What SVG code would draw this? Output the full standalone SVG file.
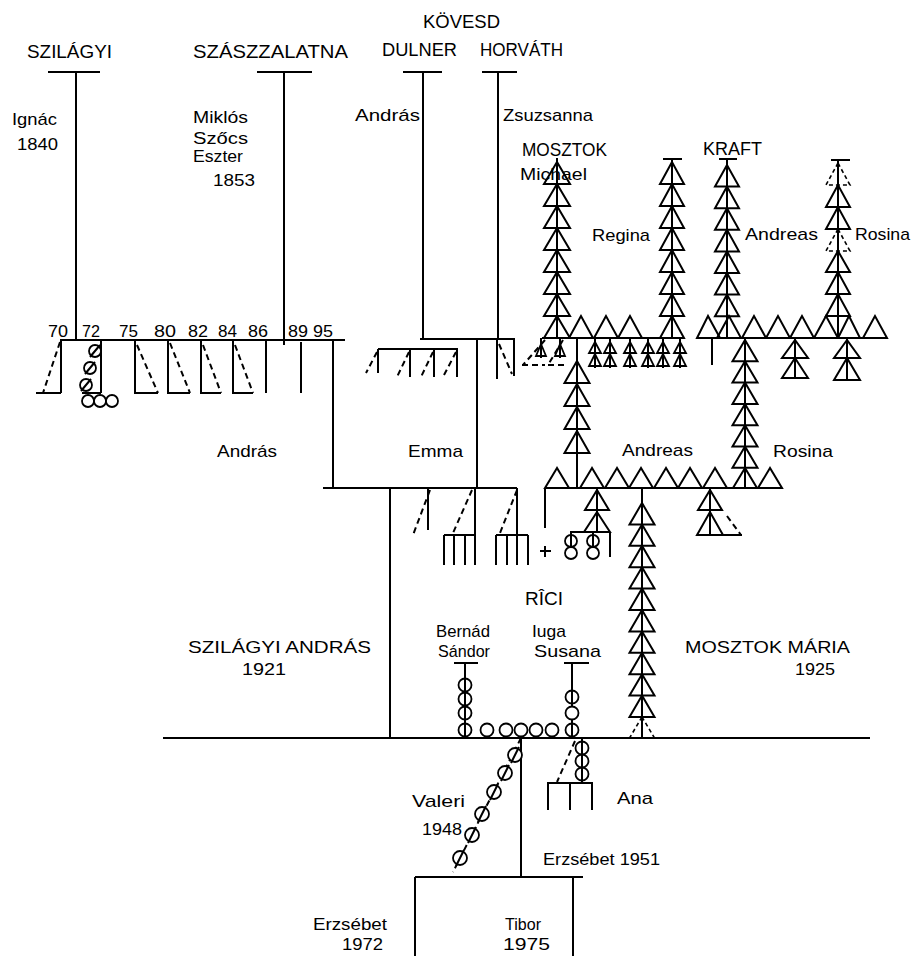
<svg xmlns="http://www.w3.org/2000/svg" width="912" height="956" viewBox="0 0 912 956">
<style>
.l{stroke:#000;stroke-width:2;fill:none}
.d{stroke:#000;stroke-width:2;fill:none;stroke-dasharray:6 4}
.t{fill:none;stroke:#000;stroke-width:2;stroke-linejoin:miter}
.td{fill:none;stroke:#000;stroke-width:1.6;stroke-dasharray:4 3}
.ts{fill:none;stroke:#000;stroke-width:1.8}
.c{fill:#fff;stroke:#000;stroke-width:1.8}
text{font-family:"Liberation Sans",Arial,sans-serif;fill:#000;font-size:17px}
.cap{font-size:18px}
.num{font-size:19px}
.sm{font-size:16px}
</style>
<rect width="912" height="956" fill="#fff"/>

<g id="connectors">
<path class="l" d="M48,72H100 M76,72V340 M257,72H312 M284,72V345 M403,72H442 M423,72V339 M482,72H517 M498,72V339 M420,339H515 M60,340H345"/>
<path class="l" d="M61,340V393 M36,393H61 M101,340V393 M82,393H101 M135,340V393H158 M168,340V393H190 M201,340V393H221 M233,340V393H253 M266,340V393 M301,342V393"/>
<path class="d" d="M60,342L43,393 M137,345L158,393 M170,343L190,393 M203,345L221,393 M235,345L253,393"/>
<path class="l" d="M333,340V488 M323,488H517 M477,339V488 M390,488V738"/>
<path class="l" d="M497,339V379 M514,339V376 M378,349H458 M378,349V373 M410,349V377 M434,349V377 M457,349V377"/>
<path class="d" d="M499,344L512,374 M377,352L366,373 M409,352L397,377 M433,352L421,377 M456,352L443,377"/>
<path class="l" d="M428,488V530 M475,488V565 M444,535H475 M444,535V565 M454,535V565 M465,535V565 M517,488V565 M496,535H528 M496,535V565 M507,535V565 M528,535V565"/>
<path class="d" d="M430,490L413,535 M472,490L453,533 M517,490L500,533"/>
<path class="l" d="M542,338H683 M697,338H887 M557,158V338 M663,159H682 M672,159V338 M719,159H737 M727,159V338 M831,160H850 M838,160V338"/>
<path class="l" d="M545,488H782 M545,488V528 M540,551H551 M545,546V557 M577,338V488 M597,488V532 M570,532H610 M610,532V557 M642,488V738 M710,488V535 M700,535H742 M745,338V488 M712,338V365 M795,338V378 M847,338V380"/>
<path class="d" d="M727,516L741,535"/>
<path class="l" d="M595,338V368 M610,338V368 M630,338V368 M648,338V368 M663,338V368 M680,338V368 M541,338V358 M560,338V358"/>
<path class="d" d="M545,340L523,365 M522,365H545 M563,340L548,365 M548,365H565"/>
<path class="l" d="M163,738H870 M454,663H478 M465,663V738 M564,663H589 M572,663V738 M521,738V877 M415,877H583 M415,877V956 M573,877V956 M582,738V783 M547,783H593 M548,783V810 M570,783V810 M592,783V810"/>
<path class="d" d="M521,738L453,872 M575,741L557,782"/>
</g>

<g id="szilagyi-ignac">
<text class="cap" x="27" y="58" textLength="85" lengthAdjust="spacingAndGlyphs">SZILÁGYI</text>
<text x="12" y="125" textLength="45" lengthAdjust="spacingAndGlyphs">Ignác</text>
<text x="17" y="150" textLength="41" lengthAdjust="spacingAndGlyphs">1840</text>
</g>
<g id="szaszzalatna-szocs-eszter">
<text class="cap" x="193" y="58" textLength="155" lengthAdjust="spacingAndGlyphs">SZÁSZZALATNA</text>
<text x="193" y="123" textLength="55" lengthAdjust="spacingAndGlyphs">Miklós</text>
<text class="sm" x="193" y="144" textLength="55" lengthAdjust="spacingAndGlyphs">Szőcs</text>
<text class="sm" x="193" y="162" textLength="50" lengthAdjust="spacingAndGlyphs">Eszter</text>
<text x="213" y="186" textLength="42" lengthAdjust="spacingAndGlyphs">1853</text>
</g>
<g id="kovesd">
<text class="cap" x="423" y="28" textLength="77" lengthAdjust="spacingAndGlyphs">KÖVESD</text>
</g>
<g id="dulner-andras">
<text class="cap" x="382" y="56" textLength="75" lengthAdjust="spacingAndGlyphs">DULNER</text>
<text x="355" y="121" textLength="65" lengthAdjust="spacingAndGlyphs">András</text>
</g>
<g id="horvath-zsuzsanna">
<text class="cap" x="480" y="56" textLength="83" lengthAdjust="spacingAndGlyphs">HORVÁTH</text>
<text x="503" y="121" textLength="90" lengthAdjust="spacingAndGlyphs">Zsuzsanna</text>
</g>

<g id="children-szilagyi">
<g class="num">
<text x="48" y="337" textLength="20" lengthAdjust="spacingAndGlyphs">70</text>
<text x="82" y="337" textLength="18" lengthAdjust="spacingAndGlyphs">72</text>
<text x="119" y="337" textLength="19" lengthAdjust="spacingAndGlyphs">75</text>
<text x="154" y="337" textLength="22" lengthAdjust="spacingAndGlyphs">80</text>
<text x="188" y="337" textLength="20" lengthAdjust="spacingAndGlyphs">82</text>
<text x="218" y="337" textLength="19" lengthAdjust="spacingAndGlyphs">84</text>
<text x="248" y="337" textLength="20" lengthAdjust="spacingAndGlyphs">86</text>
<text x="288" y="337" textLength="20" lengthAdjust="spacingAndGlyphs">89</text>
<text x="313" y="337" textLength="20" lengthAdjust="spacingAndGlyphs">95</text>
</g>
<circle class="c" cx="95" cy="351" r="6"/><circle class="c" cx="90" cy="368" r="6"/><circle class="c" cx="86" cy="385" r="6"/>
<path class="l" d="M90,357L100,345 M85,374L95,362 M81,391L91,379"/>
<circle class="c" cx="88" cy="401" r="6"/><circle class="c" cx="100" cy="401" r="6"/><circle class="c" cx="112" cy="401" r="6"/>
</g>

<g id="mosztok-michael">
<text class="cap" x="522" y="156" textLength="85" lengthAdjust="spacingAndGlyphs">MOSZTOK</text>
<text x="520" y="180" textLength="67" lengthAdjust="spacingAndGlyphs">Michael</text>
<polygon class="t" points="557,162 544,184 570,184"/>
<polygon class="t" points="557,184 544,206 570,206"/>
<polygon class="t" points="557,206 544,228 570,228"/>
<polygon class="t" points="557,228 544,250 570,250"/>
<polygon class="t" points="557,250 544,272 570,272"/>
<polygon class="t" points="557,272 544,294 570,294"/>
<polygon class="t" points="557,294 544,316 570,316"/>
<polygon class="t" points="557,316 544,338 570,338"/>
</g>
<g id="regina">
<text x="592" y="241" textLength="58" lengthAdjust="spacingAndGlyphs">Regina</text>
<polygon class="t" points="672,162 660,184 684,184"/>
<polygon class="t" points="672,184 660,206 684,206"/>
<polygon class="t" points="672,206 660,228 684,228"/>
<polygon class="t" points="672,228 660,250 684,250"/>
<polygon class="t" points="672,250 660,272 684,272"/>
<polygon class="t" points="672,272 660,294 684,294"/>
<polygon class="t" points="672,294 660,316 684,316"/>
<polygon class="t" points="672,316 660,338 684,338"/>
</g>
<g id="mosztok-children">
<polygon class="t" points="581,316 569,338 593,338"/>
<polygon class="t" points="606,316 594,338 618,338"/>
<polygon class="t" points="630,316 618,338 642,338"/>
<polygon class="ts" points="541,344 536,356 546,356"/>
<polygon class="ts" points="560,344 555,356 565,356"/>
<polygon class="ts" points="595,342 589,353 601,353"/><polygon class="ts" points="595,354 589,366 601,366"/>
<polygon class="ts" points="610,342 604,353 616,353"/><polygon class="ts" points="610,354 604,366 616,366"/>
<polygon class="ts" points="630,342 624,353 636,353"/><polygon class="ts" points="630,354 624,366 636,366"/>
<polygon class="ts" points="648,342 642,353 654,353"/><polygon class="ts" points="648,354 642,366 654,366"/>
<polygon class="ts" points="663,342 657,353 669,353"/><polygon class="ts" points="663,354 657,366 669,366"/>
<polygon class="ts" points="680,342 674,353 686,353"/><polygon class="ts" points="680,354 674,366 686,366"/>
</g>
<g id="kraft-andreas">
<text class="cap" x="703" y="155" textLength="59" lengthAdjust="spacingAndGlyphs">KRAFT</text>
<text x="745" y="240" textLength="73" lengthAdjust="spacingAndGlyphs">Andreas</text>
<polygon class="t" points="727,165 715,186.6 739,186.6"/>
<polygon class="t" points="727,186.6 715,208.2 739,208.2"/>
<polygon class="t" points="727,208.2 715,229.8 739,229.8"/>
<polygon class="t" points="727,229.8 715,251.4 739,251.4"/>
<polygon class="t" points="727,251.4 715,273 739,273"/>
<polygon class="t" points="727,273 715,294.6 739,294.6"/>
<polygon class="t" points="727,294.6 715,316.2 739,316.2"/>
</g>
<g id="rosina-upper">
<text x="855" y="240" textLength="55" lengthAdjust="spacingAndGlyphs">Rosina</text>
<polygon class="td" points="838,163 826,185 850,185"/>
<polygon class="t" points="838,185 826,207 850,207"/>
<polygon class="t" points="838,207 826,229 850,229"/>
<polygon class="td" points="838,229 826,251 850,251"/>
<polygon class="t" points="838,251 826,272 850,272"/>
<polygon class="t" points="838,272 826,294 850,294"/>
<polygon class="t" points="838,294 826,316 850,316"/>
</g>
<g id="kraft-children">
<polygon class="t" points="708,316 697,338 720,338"/>
<polygon class="t" points="729,316 717,338 741,338"/>
<polygon class="t" points="754,316 742,338 766,338"/>
<polygon class="t" points="778,316 766,338 790,338"/>
<polygon class="t" points="802,316 790,338 814,338"/>
<polygon class="t" points="826,316 814,338 838,338"/>
<polygon class="t" points="849,316 838,338 860,338"/>
<polygon class="t" points="875,316 863,338 887,338"/>
<polygon class="t" points="795,340 782,358 808,358"/><polygon class="t" points="795,358 782,378 808,378"/>
<polygon class="t" points="847,340 834,358 860,358"/><polygon class="t" points="847,358 834,380 860,380"/>
</g>
<g id="andreas-line">
<text x="622" y="456" textLength="71" lengthAdjust="spacingAndGlyphs">Andreas</text>
<polygon class="t" points="577,361 564.5,383 589.5,383"/>
<polygon class="t" points="577,384 564.5,406 589.5,406"/>
<polygon class="t" points="577,407 564.5,429 589.5,429"/>
<polygon class="t" points="577,431 564.5,453 589.5,453"/>
</g>
<g id="rosina-line">
<text x="773" y="457" textLength="60" lengthAdjust="spacingAndGlyphs">Rosina</text>
<polygon class="t" points="745,340 732.5,361.3 757.5,361.3"/>
<polygon class="t" points="745,361.3 732.5,382.6 757.5,382.6"/>
<polygon class="t" points="745,382.6 732.5,403.9 757.5,403.9"/>
<polygon class="t" points="745,403.9 732.5,425.2 757.5,425.2"/>
<polygon class="t" points="745,425.2 732.5,446.5 757.5,446.5"/>
<polygon class="t" points="745,446.5 732.5,467.8 757.5,467.8"/>
</g>
<g id="andreas-rosina-children">
<polygon class="t" points="557,468 545,488 569,488"/>
<polygon class="t" points="592,468 580,488 604,488"/>
<polygon class="t" points="617,468 605,488 629,488"/>
<polygon class="t" points="641,468 629,488 653,488"/>
<polygon class="t" points="666,468 654,488 678,488"/>
<polygon class="t" points="690,468 678,488 702,488"/>
<polygon class="t" points="715,468 703,488 727,488"/>
<polygon class="t" points="745,468 733,488 757,488"/>
<polygon class="t" points="770,468 758,488 782,488"/>
<polygon class="t" points="597,490 585,510 609,510"/><polygon class="t" points="597,512 584,532 610,532"/>
<polygon class="t" points="710,490 698,510 722,510"/><polygon class="t" points="710,512 697,535 723,535"/>
<circle class="c" cx="571" cy="541" r="6"/><circle class="c" cx="571" cy="553" r="6"/>
<circle class="c" cx="593" cy="541" r="6"/><circle class="c" cx="593" cy="553" r="6"/>
<path class="l" d="M571,532V547 M593,532V547"/>
</g>
<g id="andras">
<text x="217" y="457" textLength="60" lengthAdjust="spacingAndGlyphs">András</text>
</g>
<g id="emma">
<text x="408" y="457" textLength="55" lengthAdjust="spacingAndGlyphs">Emma</text>
</g>
<g id="rici">
<text class="cap" x="525" y="605" textLength="38" lengthAdjust="spacingAndGlyphs">RÎCI</text>
</g>
<g id="szilagyi-andras-1921">
<text x="188" y="653" textLength="183" lengthAdjust="spacingAndGlyphs">SZILÁGYI ANDRÁS</text>
<text class="sm" x="242" y="675" textLength="44" lengthAdjust="spacingAndGlyphs">1921</text>
</g>
<g id="mosztok-maria-1925">
<text x="685" y="653" textLength="165" lengthAdjust="spacingAndGlyphs">MOSZTOK MÁRIA</text>
<text class="sm" x="795" y="675" textLength="40" lengthAdjust="spacingAndGlyphs">1925</text>
<polygon class="t" points="642,503 629.5,524.4 654.5,524.4"/>
<polygon class="t" points="642,524.4 629.5,545.8 654.5,545.8"/>
<polygon class="t" points="642,545.8 629.5,567.2 654.5,567.2"/>
<polygon class="t" points="642,567.2 629.5,588.6 654.5,588.6"/>
<polygon class="t" points="642,588.6 629.5,610 654.5,610"/>
<polygon class="t" points="642,610 629.5,631.4 654.5,631.4"/>
<polygon class="t" points="642,631.4 629.5,652.8 654.5,652.8"/>
<polygon class="t" points="642,652.8 629.5,674.2 654.5,674.2"/>
<polygon class="t" points="642,674.2 629.5,695.6 654.5,695.6"/>
<polygon class="t" points="642,695.6 629.5,717 654.5,717"/>
<polygon class="td" points="642,717 629.5,738 654.5,738"/>
</g>
<g id="bernad-sandor">
<text x="436" y="637" textLength="54" lengthAdjust="spacingAndGlyphs">Bernád</text>
<text x="438" y="657" textLength="52" lengthAdjust="spacingAndGlyphs">Sándor</text>
<circle class="c" cx="465" cy="685" r="6.5"/><circle class="c" cx="465" cy="699" r="6.5"/><circle class="c" cx="465" cy="713" r="6.5"/><circle class="c" cx="465" cy="730" r="6.5"/>
<path class="l" d="M465,678V737"/>
</g>
<g id="rici-children">
<circle class="c" cx="487" cy="730" r="6.5"/><circle class="c" cx="506" cy="730" r="6.5"/><circle class="c" cx="521" cy="730" r="6.5"/><circle class="c" cx="536" cy="730" r="6.5"/><circle class="c" cx="552" cy="730" r="6.5"/>
</g>
<g id="iuga-susana">
<text x="532" y="637" textLength="34" lengthAdjust="spacingAndGlyphs">Iuga</text>
<text x="534" y="657" textLength="67" lengthAdjust="spacingAndGlyphs">Susana</text>
<circle class="c" cx="572" cy="697" r="6.5"/><circle class="c" cx="572" cy="713" r="6.5"/><circle class="c" cx="572" cy="730" r="6.5"/>
<path class="l" d="M572,690V704 M572,723V737"/>
</g>
<g id="valeri-1948">
<text x="412" y="807" textLength="53" lengthAdjust="spacingAndGlyphs">Valeri</text>
<text x="422" y="835" textLength="40" lengthAdjust="spacingAndGlyphs">1948</text>
<circle class="c" cx="515" cy="755" r="7"/><circle class="c" cx="505" cy="773" r="7"/><circle class="c" cx="494" cy="792" r="7"/><circle class="c" cx="482" cy="814" r="7"/><circle class="c" cx="472" cy="835" r="7"/><circle class="c" cx="460" cy="858" r="7"/>
<path class="l" d="M511,763L519,747 M501,781L509,765 M490,800L498,784 M478,822L486,806 M468,843L476,827 M456,866L464,850"/>
</g>
<g id="ana">
<text x="617" y="804" textLength="36" lengthAdjust="spacingAndGlyphs">Ana</text>
<circle class="c" cx="582" cy="748" r="6.5"/><circle class="c" cx="582" cy="761" r="6.5"/><circle class="c" cx="582" cy="774" r="6.5"/>
<path class="l" d="M582,741V781"/>
</g>
<g id="erzsebet-1951">
<text x="543" y="865" textLength="117" lengthAdjust="spacingAndGlyphs">Erzsébet 1951</text>
</g>
<g id="erzsebet-1972">
<text x="313" y="930" textLength="74" lengthAdjust="spacingAndGlyphs">Erzsébet</text>
<text x="342" y="950" textLength="41" lengthAdjust="spacingAndGlyphs">1972</text>
</g>
<g id="tibor-1975">
<text x="505" y="930" textLength="36" lengthAdjust="spacingAndGlyphs">Tibor</text>
<text x="503" y="950" textLength="47" lengthAdjust="spacingAndGlyphs">1975</text>
</g>
</svg>
